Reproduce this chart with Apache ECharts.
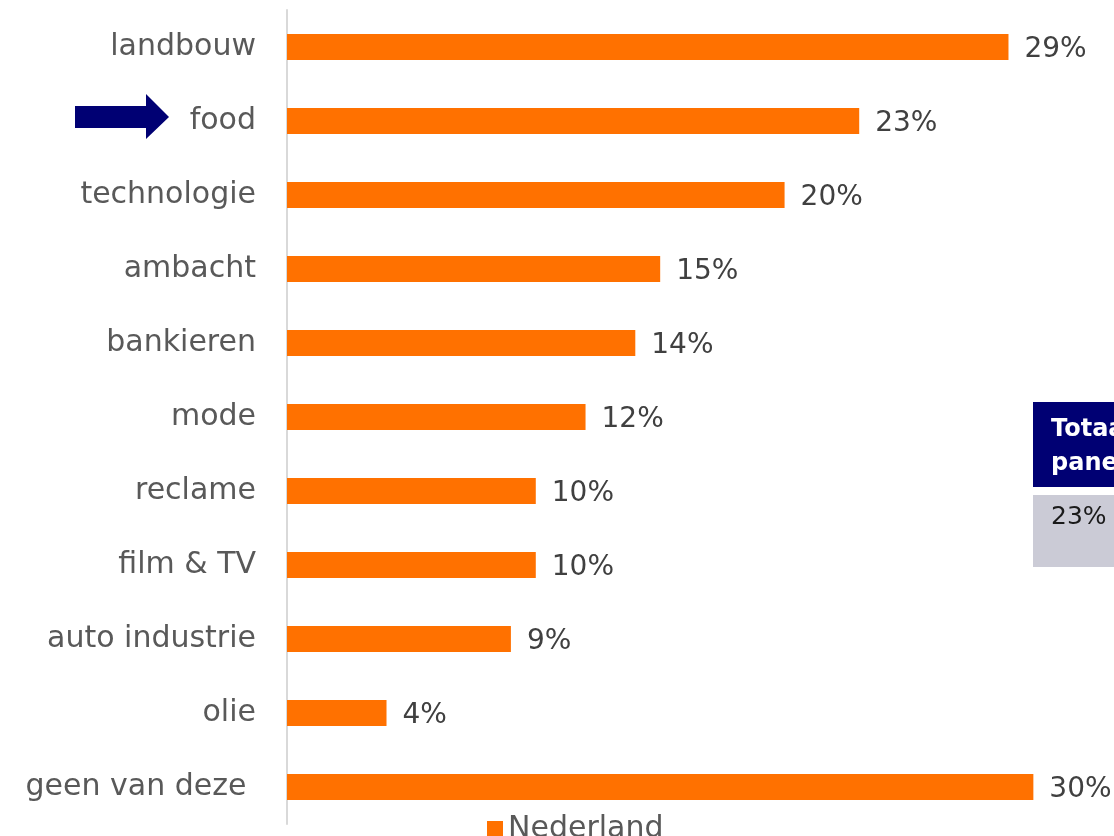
<!DOCTYPE html>
<html>
<head>
<meta charset="utf-8">
<script src="https://cdn.jsdelivr.net/npm/echarts@6/dist/echarts.min.js"></script>
<style>
  html, body { margin: 0; padding: 0; background: #ffffff; }
  #chart { width: 1114px; height: 836px; }
</style>
</head>
<body>
<div id="chart"></div>
<script>
// Sectors, listed top to bottom
const categories = [
  'landbouw', 'food', 'technologie', 'ambacht', 'bankieren', 'mode',
  'reclame', 'film & TV', 'auto industrie', 'olie', 'geen van deze '
];
// Share of respondents per sector (%), Nederland
const nederland = [29, 23, 20, 15, 14, 12, 10, 10, 9, 4, 30];
const seriesName = 'Nederland';
// Total panel figure shown in the side box
const panelTitle = ['Totaal', 'panel'];
const panelValue = '23%';

const FONT = '"DejaVu Sans", sans-serif';
const chart = echarts.init(document.getElementById('chart'), null, { renderer: 'canvas' });

chart.setOption({
  animation: false,
  backgroundColor: '#ffffff',
  legend: {
    data: [seriesName],
    left: 482,
    top: 809,
    itemWidth: 16,
    itemHeight: 16,
    itemGap: 8,
    icon: 'rect',
    textStyle: { color: '#595959', fontSize: 30, fontFamily: FONT }
  },
  grid: { left: 287, right: 6, top: 10, bottom: 12, containLabel: false },
  xAxis: {
    type: 'value',
    min: 0,
    max: 33,
    show: false
  },
  yAxis: {
    type: 'category',
    inverse: true,
    data: categories,
    axisLine: { show: true, lineStyle: { color: '#d9d9d9', width: 2 } },
    axisTick: { show: false },
    axisLabel: {
      color: '#595959', fontSize: 30, fontFamily: FONT, margin: 31,
      padding: [4, 0, 0, 0]
    }
  },
  series: [{
    name: seriesName,
    type: 'bar',
    data: nederland,
    barWidth: 26,
    itemStyle: { color: '#ff7100' },
    label: {
      show: true,
      position: 'right',
      distance: 16,
      offset: [0, 3],
      formatter: p => p.value + '%',
      color: '#404040',
      fontSize: 28,
      fontFamily: FONT
    }
  }],
  graphic: [
    // arrow pointing at "food"
    {
      type: 'polygon',
      shape: { points: [[75, 106], [146, 106], [146, 94], [169, 117], [146, 139], [146, 128], [75, 128]] },
      style: { fill: '#000073' }
    },
    // total panel box
    {
      type: 'rect',
      shape: { x: 1033, y: 402, width: 90, height: 85 },
      style: { fill: '#000073' }
    },
    {
      type: 'text',
      left: 1051, top: 413,
      style: {
        text: panelTitle.join('\n'),
        fill: '#ffffff',
        font: 'bold 24px ' + FONT,
        lineHeight: 34
      }
    },
    {
      type: 'rect',
      shape: { x: 1033, y: 495, width: 90, height: 72 },
      style: { fill: '#cbcbd6' }
    },
    {
      type: 'text',
      left: 1051, top: 505,
      style: { text: panelValue, fill: '#1a1a1a', font: '25px ' + FONT }
    }
  ]
});
</script>
</body>
</html>
